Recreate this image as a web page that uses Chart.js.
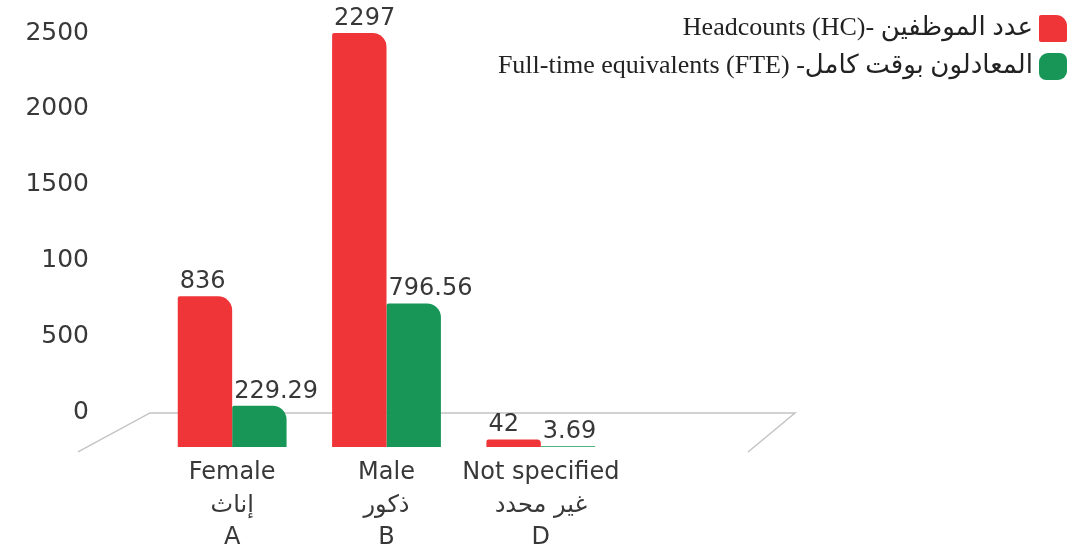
<!DOCTYPE html>
<html>
<head>
<meta charset="utf-8">
<script src="https://cdn.jsdelivr.net/npm/chart.js@4.4.0/dist/chart.umd.min.js"></script>
<style>
  html, body { margin: 0; padding: 0; background: #fff; }
  #wrap { width: 1070px; height: 555px; position: relative; }
</style>
</head>
<body>
<div id="wrap"><canvas id="hc-chart"></canvas></div>
<script>
// data
var categories = [
    ['Female', 'إناث', 'A'],
    ['Male', 'ذكور', 'B'],
    ['Not specified', 'غير محدد', 'D']
];
var headcounts = [836, 2297, 42];
var fteValues = [229.29, 796.56, 3.69];
var seriesNames = ['Headcounts (HC)- عدد الموظفين', 'Full-time equivalents (FTE) -المعادلون بوقت كامل'];
var tickValues = [0, 500, 1000, 1500, 2000, 2500];
var tickLabels = ['0', '500', '100', '1500', '2000', '2500'];

var RED = '#ef3538';
var GREEN = '#179657';
var TEXT = '#383838';
var SANS = '"DejaVu Sans", sans-serif';

// grey perspective floor behind the bars
var floorPlugin = {
    id: 'floor',
    beforeDatasetsDraw: function(chart) {
        var ctx = chart.ctx;
        var area = chart.chartArea;
        var y0 = chart.scales.y2.getPixelForValue(0);
        var left = area.left - 5;
        var right = area.right + 177;
        ctx.save();
        ctx.strokeStyle = '#c4c4c4';
        ctx.lineWidth = 1.5;
        ctx.beginPath();
        ctx.moveTo(left - 72, y0 + 39);
        ctx.lineTo(left, y0);
        ctx.lineTo(right, y0);
        ctx.lineTo(right - 47, y0 + 39);
        ctx.stroke();
        ctx.restore();
    }
};

// numbers over the bars
var valueLabels = {
    id: 'valueLabels',
    afterDatasetsDraw: function(chart) {
        var ctx = chart.ctx;
        ctx.save();
        ctx.font = '24px ' + SANS;
        ctx.fillStyle = TEXT;
        ctx.textAlign = 'left';
        ctx.textBaseline = 'alphabetic';
        chart.data.datasets.forEach(function(ds, di) {
            chart.getDatasetMeta(di).data.forEach(function(bar, i) {
                var x = bar.x - bar.width / 2 + 2;
                ctx.fillText(String(ds.data[i]), x, bar.y - 8);
            });
        });
        ctx.restore();
    }
};

// legend in the top right corner
var cornerLegend = {
    id: 'cornerLegend',
    afterDraw: function(chart) {
        var ctx = chart.ctx;
        var right = chart.width - 3;
        ctx.save();
        chart.data.datasets.forEach(function(ds, i) {
            var top = 15 + i * 38;
            ctx.fillStyle = ds.backgroundColor;
            ctx.beginPath();
            if (i === 0) {
                ctx.roundRect(right - 28, top, 28, 27, [2, 11, 2, 2]);
            } else {
                ctx.roundRect(right - 28, top, 28, 27, [9, 7, 9, 7]);
            }
            ctx.fill();
            ctx.fillStyle = '#222';
            ctx.font = '26px "Liberation Serif", "DejaVu Sans", serif';
            ctx.textAlign = 'right';
            ctx.textBaseline = 'middle';
            ctx.fillText(ds.label, right - 34, top + 13);
        });
        ctx.restore();
    }
};

new Chart(document.getElementById('hc-chart'), {
    type: 'bar',
    data: {
        labels: categories,
        datasets: [
            {
                label: seriesNames[0],
                data: headcounts,
                backgroundColor: RED,
                borderRadius: { topLeft: 2, topRight: 14, bottomLeft: 0, bottomRight: 0 },
                borderSkipped: false,
                categoryPercentage: 0.705,
                barPercentage: 1.0,
                yAxisID: 'y'
            },
            {
                label: seriesNames[1],
                data: fteValues,
                backgroundColor: GREEN,
                borderRadius: { topLeft: 2, topRight: 14, bottomLeft: 0, bottomRight: 0 },
                borderSkipped: false,
                categoryPercentage: 0.705,
                barPercentage: 1.0,
                yAxisID: 'y'
            }
        ]
    },
    options: {
        responsive: true,
        maintainAspectRatio: false,
        animation: false,
        layout: { padding: { top: 33, right: 452, left: 0, bottom: 0 } },
        plugins: {
            legend: { display: false },
            tooltip: { enabled: false }
        },
        scales: {
            x: {
                grid: { display: false, drawTicks: false },
                border: { display: false },
                ticks: {
                    color: TEXT,
                    font: { family: SANS, size: 24, lineHeight: 1.35 },
                    padding: 10,
                    maxRotation: 0,
                    autoSkip: false
                },
                afterFit: function(scale) {
                    scale.height = 108;
                    scale.paddingLeft = 0;
                    scale.paddingRight = 0;
                }
            },
            y: {
                display: false,
                min: 0,
                max: 2297
            },
            y2: {
                position: 'left',
                min: -224,
                max: 2500,
                grid: { display: false, drawTicks: false },
                border: { display: false },
                afterBuildTicks: function(scale) {
                    scale.ticks = tickValues.map(function(v) { return { value: v }; });
                },
                ticks: {
                    color: TEXT,
                    font: { family: SANS, size: 25 },
                    padding: 66,
                    callback: function(value, index) { return tickLabels[index]; }
                },
                afterFit: function(scale) {
                    scale.width = 155;
                    scale.paddingTop = 0;
                    scale.paddingBottom = 0;
                }
            }
        }
    },
    plugins: [floorPlugin, valueLabels, cornerLegend]
});
</script>
</body>
</html>
